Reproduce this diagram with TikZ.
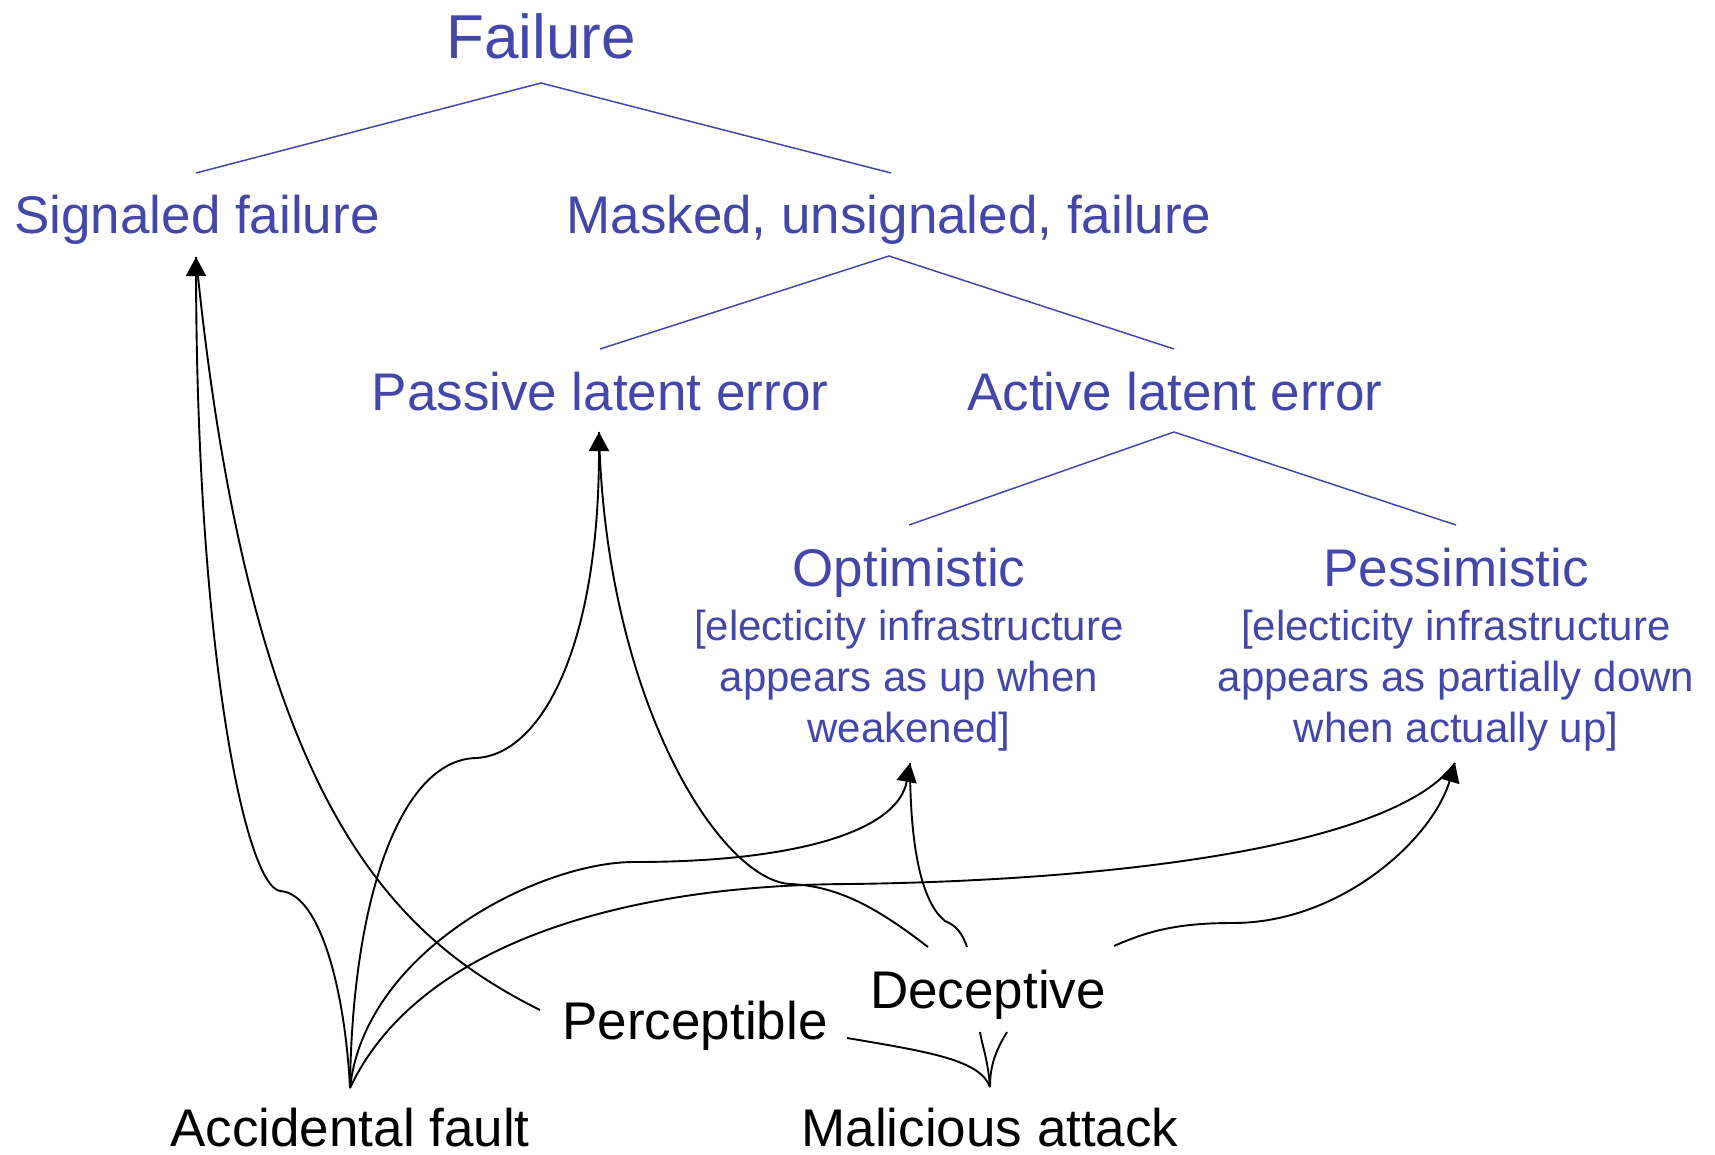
\documentclass[tikz,border=0pt]{standalone}
\usepackage{fontspec}
\setmainfont{Liberation Sans}
\usetikzlibrary{arrows.meta}
\definecolor{fblue}{RGB}{68,70,170}
\begin{document}
\begin{tikzpicture}[x=1pt,y=-1pt,
  lbl/.style={inner sep=0pt, anchor=base},
  bluet/.style={lbl, text=fblue, font=\fontsize{53}{60}\selectfont},
  bigt/.style={lbl, text=fblue, font=\fontsize{62}{70}\selectfont},
  blackt/.style={lbl, text=black, font=\fontsize{53}{60}\selectfont},
  notet/.style={lbl, text=fblue, font=\fontsize{42}{51}\selectfont},
  tree/.style={draw=fblue, line width=1.5pt},
  conn/.style={draw=black, line width=1.9pt},
  arr/.style={conn, -{Triangle[width=20pt,length=19pt]}},
]
\useasboundingbox (0,0) rectangle (1715,1154);

% ---- blue tree texts
\node[bigt] (failure) at (541,58) {Failure};
\node[bluet] (signaled) at (197,233) {Signaled failure};
\node[bluet] (masked) at (889,233) {Masked, unsignaled, failure};
\node[bluet] (passive) at (600,410) {Passive latent error};
\node[bluet] (active) at (1175,410) {Active latent error};
\node[bluet] (optim) at (909,586) {Optimistic};
\node[notet] (optA) at (909,640) {[electicity infrastructure};
\node[notet] (optB) at (909,691) {appears as up when};
\node[notet] (optC) at (909,742) {weakened]};
\node[bluet] (pessim) at (1456,586) {Pessimistic};
\node[notet] (pesA) at (1456,640) {[electicity infrastructure};
\node[notet] (pesB) at (1456,691) {appears as partially down};
\node[notet] (pesC) at (1456,742) {when actually up]};

% ---- black texts
\node[blackt] (percept) at (695,1039) {Perceptible};
\node[blackt] (decept) at (988,1008) {Deceptive};
\node[blackt] (accid) at (350,1146) {Accidental fault};
\node[blackt] (malic) at (990,1146) {Malicious attack};

% ---- tree joints
\coordinate (fA) at (541,83);
\coordinate (sigTop) at (196,173);
\coordinate (maskTop) at (891,173);
\coordinate (mA) at (889,256);
\coordinate (pasTop) at (600,349);
\coordinate (actTop) at (1174,349);
\coordinate (aA) at (1174,432);
\coordinate (optTop) at (909,525);
\coordinate (pesTop) at (1456,525);

\draw[tree] (sigTop) -- (fA) -- (maskTop);
\draw[tree] (pasTop) -- (mA) -- (actTop);
\draw[tree] (optTop) -- (aA) -- (pesTop);

% ---- connector end points
\coordinate (sigTip) at (196,257);
\coordinate (pasTip) at (599,432);
\coordinate (optTip) at (910,763);
\coordinate (pesTip) at (1455,763);
\coordinate (acc) at (350,1088);
\coordinate (mal) at (990,1087);
\coordinate (perL) at (540,1010);
\coordinate (perR) at (847,1038);
\coordinate (decA) at (928,947);
\coordinate (decB) at (967,947);
\coordinate (decC) at (1114,946);
\coordinate (decD) at (980,1032);
\coordinate (decE) at (1007,1032);

% ---- connectors
% accidental -> signaled
\draw[arr] (acc) .. controls (345,990) and (320,893) .. (280,891)
  .. controls (245,885) and (197,650) .. (sigTip);
% perceptible -> signaled
\draw[conn] (perL) .. controls (390,935) and (250,800) .. (sigTip);
% accidental -> passive
\draw[arr] (acc) .. controls (352,900) and (400,760) .. (476,758)
  .. controls (540,755) and (599,650) .. (pasTip);
% deceptive -> passive
\draw[conn] (decA) .. controls (880,910) and (840,886) .. (790,884)
  .. controls (720,880) and (605,700) .. (pasTip);
% accidental -> optimistic
\draw[arr] (acc) .. controls (365,950) and (540,862) .. (634,862)
  .. controls (800,862) and (898,830) .. (optTip);
% deceptive -> optimistic
\draw[conn] (decB) .. controls (962,932) and (955,925) .. (945,921)
  .. controls (925,905) and (910,860) .. (optTip);
% accidental -> pessimistic
\draw[conn] (acc) .. controls (415,950) and (610,885) .. (850,884)
  .. controls (1150,880) and (1400,840) .. (pesTip);
% deceptive -> pessimistic
\draw[arr] (decC) .. controls (1150,930) and (1180,923) .. (1233,923)
  .. controls (1340,923) and (1432,840) .. (pesTip);
% malicious -> perceptible / deceptive
\draw[conn] (mal) .. controls (980,1060) and (930,1052) .. (perR);
\draw[conn] (mal) .. controls (988,1060) and (982,1045) .. (decD);
\draw[conn] (mal) .. controls (990,1065) and (996,1050) .. (decE);
\end{tikzpicture}
\end{document}
